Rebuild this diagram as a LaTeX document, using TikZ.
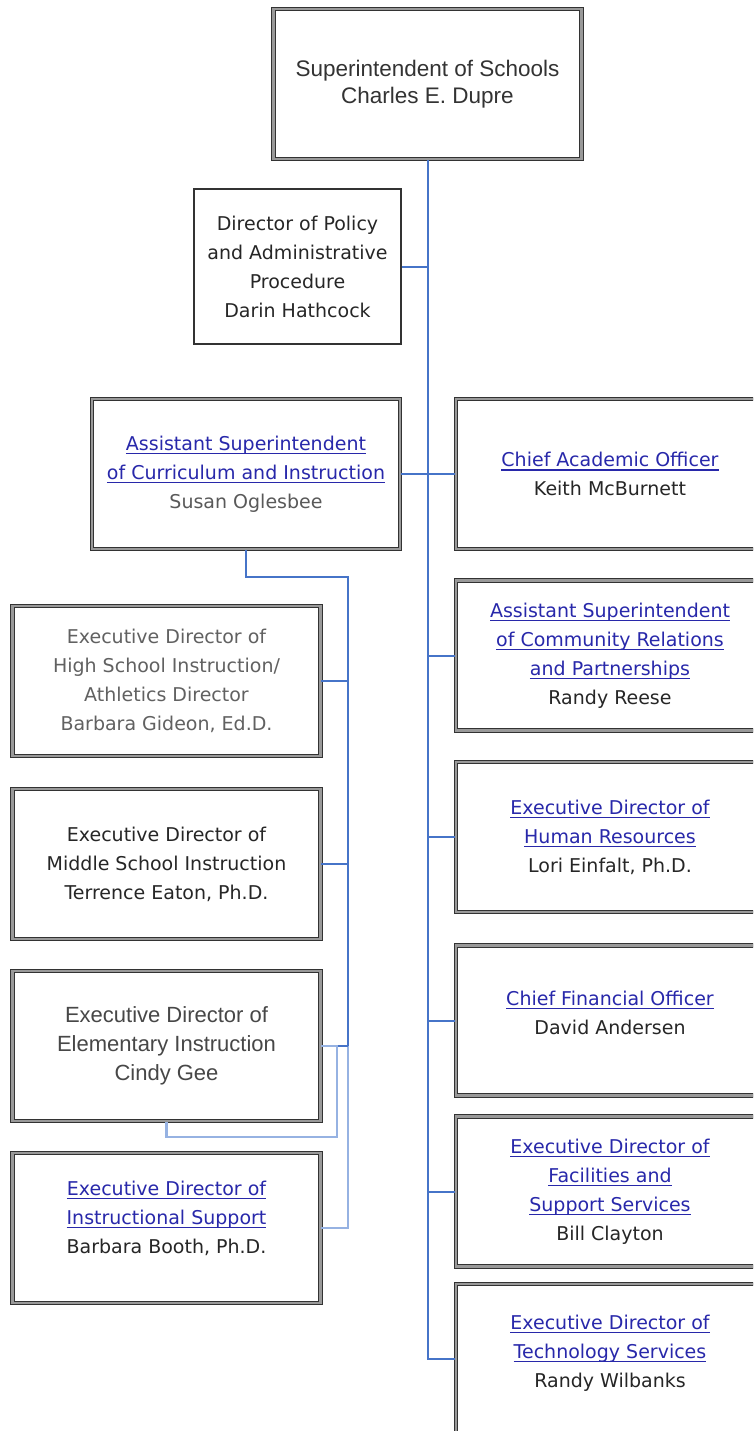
\documentclass[tikz,border=0pt]{standalone}
\usepackage{fontspec}
\setmainfont{DejaVu Sans}
\newfontfamily\arialfont{Liberation Sans}
\usepackage{xcolor}
\definecolor{linkblue}{RGB}{40,40,170}
\definecolor{lineblue}{RGB}{70,116,200}
\definecolor{paleblue}{RGB}{150,178,226}
\newcommand{\lnk}[1]{\textcolor{linkblue}{\setbox0\hbox{#1}\rlap{\rule[-4pt]{\wd0}{1.2pt}}\box0}}

\begin{document}
\begin{tikzpicture}[x=1pt, y=-1pt, font=\fontsize{19}{29}\selectfont]
    \tikzstyle{box}=[draw=black!80, line width=1.3pt, double=black!40,
      double distance=2.2pt, fill=white, align=center, text=black!85,
      minimum width=308pt, minimum height=150pt, inner sep=0pt]
    \tikzstyle{plainbox}=[draw=black!80, line width=1.8pt, align=center,
      text=black!85, minimum width=207pt, minimum height=155pt, inner sep=0pt]
    \tikzstyle{link}=[draw=lineblue, line width=2pt]
    \tikzstyle{stem}=[draw=lineblue, line width=2.8pt]
    \tikzstyle{faint}=[draw=paleblue, line width=2.6pt]
    \useasboundingbox (0,0) rectangle (753,1431);
    \clip (0,0) rectangle (753,1431);

    % top
    \node[box, font=\arialfont\fontsize{22.5}{27}\selectfont, text=black!80] (super) at (427.5,84)
      {Superintendent of Schools\\Charles E. Dupre};
    \node[plainbox] (policy) at (297.5,266.5)
      {Director of Policy\\and Administrative\\Procedure\\Darin Hathcock};
    \node[box] (asstci) at (246,474)
      {\lnk{Assistant Superintendent}\\\lnk{of Curriculum and Instruction}\\{\color{black!65}Susan Oglesbee}};

    % right column
    \node[box] (cao) at (610,474) {\lnk{Chief Academic Officer}\\Keith McBurnett};
    \node[box] (comm) at (610,655.5)
      {\lnk{Assistant Superintendent}\\\lnk{of Community Relations}\\\lnk{and Partnerships}\\Randy Reese};
    \node[box] (hr) at (610,837) {\lnk{Executive Director of}\\\lnk{Human Resources}\\Lori Einfalt, Ph.D.};
    \node[box] (cfo) at (610,1020.5) {\lnk{Chief Financial Officer}\\David Andersen\\[-13pt]};
    \node[box] (fac) at (610,1191.5)
      {\lnk{Executive Director of}\\\lnk{Facilities and}\\\lnk{Support Services}\\Bill Clayton};
    \node[box] (tech) at (610,1359) {\lnk{Executive Director of}\\\lnk{Technology Services}\\Randy Wilbanks\\[-13pt]};

    % left column
    \node[box, text=black!62] (hs) at (166.5,681)
      {Executive Director of\\High School Instruction/\\Athletics Director\\Barbara Gideon, Ed.D.};
    \node[box] (ms) at (166.5,864)
      {Executive Director of\\Middle School Instruction\\Terrence Eaton, Ph.D.};
    \node[box, font=\arialfont\fontsize{22}{29}\selectfont, text=black!72] (el) at (166.5,1046)
      {Executive Director of\\Elementary Instruction\\Cindy Gee};
    \node[box] (is) at (166.5,1228)
      {\lnk{Executive Director of}\\\lnk{Instructional Support}\\Barbara Booth, Ph.D.\\[-7pt]};

    \coordinate (lt) at (348,577);
    \coordinate (elk) at (337,1137);

    % connectors
    \draw[link] (super.south) |- (tech.west);
    \draw[link] (policy.east) -- (policy.east -| super.south);
    \draw[link] (asstci.east) -- (cao.west);
    \foreach \n in {comm,hr,cfo,fac}
      \draw[link] (super.south |- \n.west) -- (\n.west);
    \draw[stem] (asstci.south) |- (lt) -- (lt |- el.east);
    \draw[faint] (lt |- el.east) |- (is.east);
    \foreach \n in {hs,ms,el}
      \draw[link] (\n.east) -- (\n.east -| lt);
    \draw[faint] (el.east) -| (elk) -| (el.south);
\end{tikzpicture}
\end{document}
